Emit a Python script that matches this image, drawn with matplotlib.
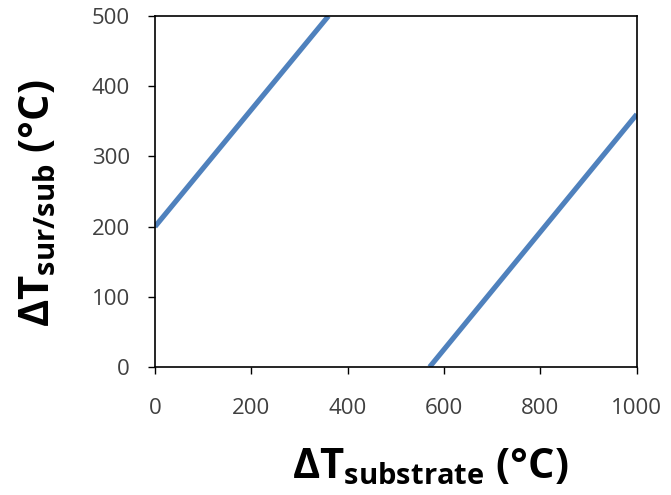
import matplotlib
matplotlib.use('Agg')
import matplotlib.pyplot as plt

# lines
x_low = [0, 360]
y_low = [200, 500]
x_high = [570, 1000]
y_high = [0, 360]

xticks = [0, 200, 400, 600, 800, 1000]
yticks = [0, 100, 200, 300, 400, 500]

plt.rcParams['font.family'] = ['Open Sans', 'DejaVu Sans']
plt.rcParams['mathtext.fontset'] = 'custom'
plt.rcParams['mathtext.rm'] = 'Open Sans'
plt.rcParams['mathtext.bf'] = 'Open Sans:bold'

fig = plt.figure(figsize=(6.71, 4.95), dpi=100)
ax = fig.add_axes([0.231, 0.2586, 0.718, 0.709])

col = '#4F81BD'
ax.plot(x_low, y_low, color=col, lw=3.7, solid_capstyle='butt')
ax.plot(x_high, y_high, color=col, lw=3.7, solid_capstyle='butt')

ax.set_xlim(0, 1000)
ax.set_ylim(0, 500)
ax.set_xticks(xticks)
ax.set_yticks(yticks)
ax.tick_params(direction='out', length=5, width=1, labelsize=16, labelcolor='#404040')
ax.tick_params(axis='x', pad=17)
ax.tick_params(axis='y', pad=13)
for s in ax.spines.values():
    s.set_linewidth(1.2)

fig.text(0.641, 0.055, r'$\mathbf{\Delta T_{substrate}}$ (°C)', fontsize=30,
         fontweight='bold', ha='center', va='center')
fig.text(0.058, 0.59, r'$\mathbf{\Delta T_{sur/sub}}$ (°C)', fontsize=30,
         fontweight='bold', ha='center', va='center', rotation=90)

fig.savefig('out.png', dpi=100)
